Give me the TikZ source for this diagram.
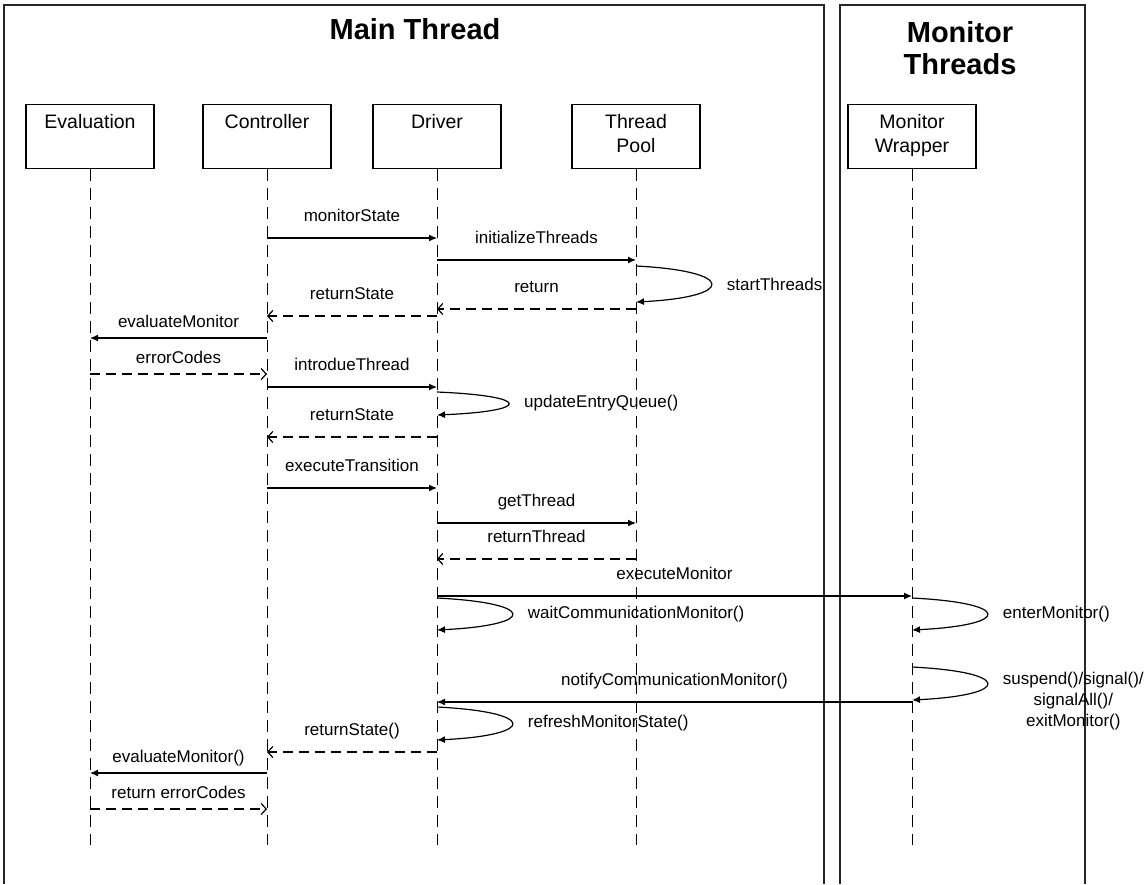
\documentclass[tikz,border=0pt]{standalone}
\usepackage{fontspec}
\setmainfont{Liberation Sans}
\usetikzlibrary{arrows.meta}

\begin{document}
\begin{tikzpicture}[>=latex, x=1pt, y=-1pt]
    \tikzset{
        frame/.style={draw, line width=1.4pt, black!85},
        title/.style={font=\fontsize{29}{32}\selectfont\bfseries, align=center},
        obj/.style={draw, line width=1.1pt, minimum width=128pt, minimum height=64pt, anchor=north},
        objtext/.style={font=\fontsize{19.5}{24}\selectfont, align=center, anchor=north, yshift=-7pt},
        life/.style={draw, line width=1pt, dash pattern=on 12pt off 7pt},
        call/.style={draw, line width=1.2pt, -{Latex[length=8pt,width=7pt]}},
        reply/.style={draw, line width=1.2pt, dash pattern=on 10pt off 6pt, -{Straight Barb[length=5pt,width=11pt]}},
        selfcall/.style={draw, line width=1.2pt, -{Latex[length=8pt,width=7pt]}},
        msg/.style={font=\fontsize{17}{20}\selectfont, text height=12pt, text depth=3.5pt, above=9pt},
        msgl/.style={font=\fontsize{17}{20}\selectfont, text height=12pt, text depth=3.5pt, above=3pt},
        loopmsg/.style={font=\fontsize{17}{21}\selectfont, right=12pt, align=center}
    }

    \useasboundingbox (0,0) rectangle (1146,884);

    % thread frames
    \draw[frame] (4,884) -- (4,5) -- (824,5) -- (824,884);
    \draw[frame] (840,884) -- (840,5) -- (1085,5) -- (1085,884);
    \node[title] (mainT) at (415,29) {Main Thread};
    \node[title] (monT) at (960,48) {Monitor\\Threads};

    % objects
    \node[obj, label={[objtext]north:Evaluation}] (eval) at (90,104) {};
    \node[obj, label={[objtext]north:Controller}] (ctrl) at (267,104) {};
    \node[obj, label={[objtext]north:Driver}]     (drv)  at (437,104) {};
    \node[obj, label={[objtext]north:Thread\\Pool}]    (pool) at (636,104) {};
    \node[obj, label={[objtext]north:Monitor\\Wrapper}] (mon) at (912,104) {};

    % lifelines
    \foreach \o in {eval, ctrl, drv, pool, mon}
        \draw[life] (\o.south) -- (\o |- 0,845);

    % setup
    \draw[call] (ctrl |- 0,238) -- node[msg] {monitorState} (drv |- 0,238);
    \draw[call] (drv |- 0,260) -- node[msg] {initializeThreads} (pool |- 0,260);
    \draw[selfcall] (pool |- 0,266) .. controls +(100,5) and +(100,-5) .. node[loopmsg] (lStart) {startThreads} (pool |- 0,302);
    \draw[reply] (pool |- 0,309) -- node[msg] {return} (drv |- 0,309);
    \draw[reply] (drv |- 0,316) -- node[msg] {returnState} (ctrl |- 0,316);
    \draw[call] (ctrl |- 0,338) -- node[msgl] {evaluateMonitor} (eval |- 0,338);
    \draw[reply] (eval |- 0,374) -- node[msgl] {errorCodes} (ctrl |- 0,374);

    % transition
    \draw[call] (ctrl |- 0,387) -- node[msg] {introdueThread} (drv |- 0,387);
    \draw[selfcall] (drv |- 0,392) .. controls +(95,4) and +(95,-4) .. node[loopmsg] (lQueue) {updateEntryQueue()} (drv |- 0,415);
    \draw[reply] (drv |- 0,437) -- node[msg] {returnState} (ctrl |- 0,437);
    \draw[call] (ctrl |- 0,488) -- node[msg] {executeTransition} (drv |- 0,488);
    \draw[call] (drv |- 0,523) -- node[msg] {getThread} (pool |- 0,523);
    \draw[reply] (pool |- 0,559) -- node[msg] {returnThread} (drv |- 0,559);

    % monitor
    \draw[call] (drv |- 0,596) -- node[msg] {executeMonitor} (mon |- 0,596);
    \draw[selfcall] (drv |- 0,598) .. controls +(100,5) and +(100,-5) .. node[loopmsg] (lWait) {waitCommunicationMonitor()} (drv |- 0,630);
    \draw[selfcall] (mon |- 0,598) .. controls +(100,5) and +(100,-5) .. node[loopmsg] (lEnter) {enterMonitor()} (mon |- 0,630);
    \draw[selfcall] (mon |- 0,667) .. controls +(100,5) and +(100,-5) .. node[loopmsg, anchor=north west, yshift=15pt] (lSignal) {suspend()/signal()/\\signalAll()/\\exitMonitor()} (mon |- 0,700);
    \draw[call] (mon |- 0,702) -- node[msg] {notifyCommunicationMonitor()} (drv |- 0,702);
    \draw[selfcall] (drv |- 0,707) .. controls +(100,5) and +(100,-5) .. node[loopmsg] (lRefresh) {refreshMonitorState()} (drv |- 0,740);
    \draw[reply] (drv |- 0,752) -- node[msg] {returnState()} (ctrl |- 0,752);
    \draw[call] (ctrl |- 0,773) -- node[msgl] {evaluateMonitor()} (eval |- 0,773);
    \draw[reply] (eval |- 0,809) -- node[msgl] {return errorCodes} (ctrl |- 0,809);

\end{tikzpicture}
\end{document}
